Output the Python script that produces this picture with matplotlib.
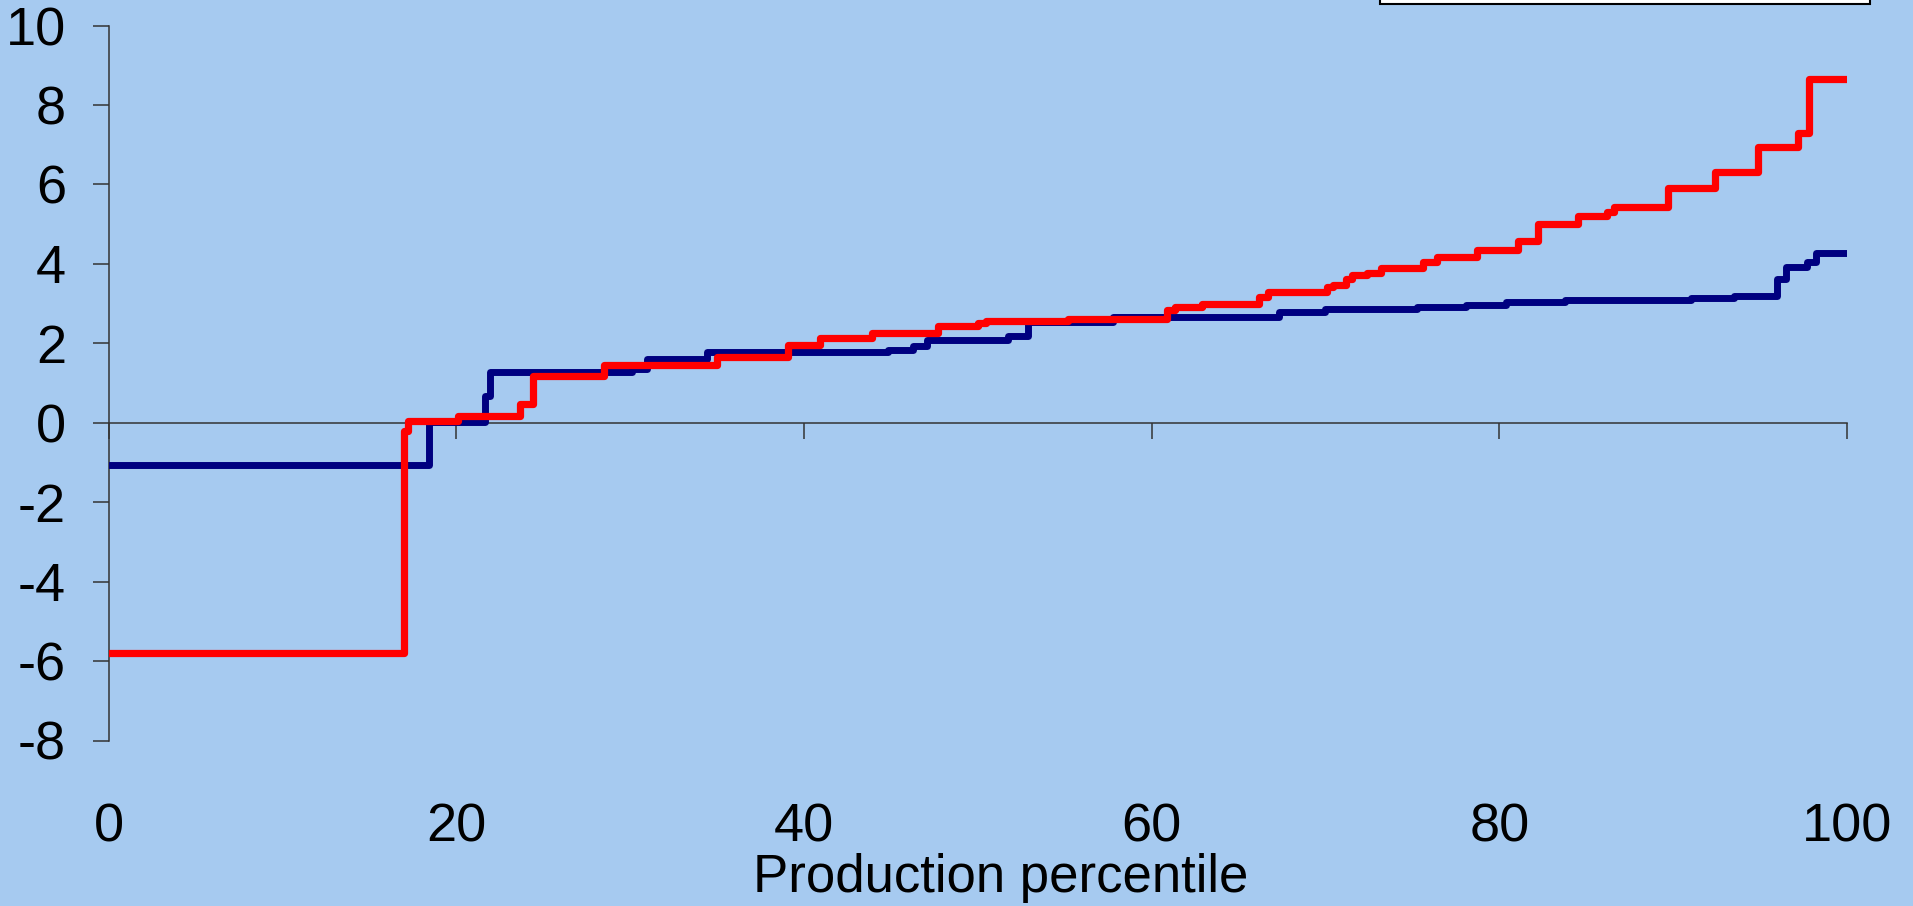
import matplotlib
matplotlib.use("Agg")
import matplotlib.pyplot as plt
from matplotlib.patches import Rectangle
import matplotlib.transforms as mtransforms

# ---- data (step functions: value holds from x[i] to x[i+1]) ----
blue_x = [0, 18.45, 21.65, 21.94, 30.1, 30.95, 34.45, 44.85, 46.3, 47.06,
          51.75, 52.9, 57.8, 67.3, 69.97, 75.25, 78.1, 80.4, 83.8, 91.0,
          93.5, 96.0, 96.5, 97.7, 98.2, 100]
blue_y = [-1.07, 0.02, 0.67, 1.27, 1.36, 1.6, 1.78, 1.84, 1.92, 2.07,
          2.19, 2.53, 2.66, 2.8, 2.87, 2.92, 2.97, 3.03, 3.08, 3.13,
          3.19, 3.61, 3.93, 4.05, 4.28, 4.28]

red_x = [0, 17.0, 17.24, 20.1, 23.67, 24.4, 28.5, 35.0, 39.1, 40.9,
         43.9, 47.7, 50.0, 50.5, 55.2, 60.87, 61.34, 62.9, 66.2, 66.7,
         70.07, 70.45, 71.2, 71.5, 72.4, 73.2, 75.6, 76.4, 78.7, 81.1,
         82.2, 84.5, 86.2, 86.6, 89.7, 92.4, 94.9, 97.2, 97.8, 100]
red_y = [-5.8, -0.2, 0.04, 0.17, 0.46, 1.17, 1.46, 1.66, 1.96, 2.13,
         2.26, 2.44, 2.51, 2.56, 2.61, 2.84, 2.92, 2.99, 3.17, 3.28,
         3.41, 3.47, 3.61, 3.72, 3.78, 3.89, 4.05, 4.18, 4.35, 4.58,
         5.0, 5.2, 5.3, 5.43, 5.92, 6.31, 6.94, 7.29, 8.65, 8.65]

x_ticks = [0, 20, 40, 60, 80, 100]
y_ticks = [-8, -6, -4, -2, 0, 2, 4, 6, 8, 10]
x_label = "Production percentile"

# ---- styling ----
bg = "#A6CAF0"
plt.rcParams['font.family'] = ['Liberation Sans', 'DejaVu Sans']
FS = 39

W, H = 1913, 906
fig = plt.figure(figsize=(W / 100, H / 100), dpi=100, facecolor=bg)
left, right = 108.6 / W, 1847 / W
top, bottom = 1 - 25.5 / H, 1 - 740.5 / H
ax = fig.add_axes([left, bottom, right - left, top - bottom])
ax.set_facecolor(bg)

ax.step(blue_x, blue_y, where='post', color='#000080', lw=5.0,
        solid_joinstyle='round', solid_capstyle='round', zorder=3)
ax.step(red_x, red_y, where='post', color='#FF0000', lw=5.2,
        solid_joinstyle='round', solid_capstyle='round', zorder=4)

ax.set_xlim(0, 100)
ax.set_ylim(-8, 10)

for s in ['top', 'right']:
    ax.spines[s].set_visible(False)
ax.spines['bottom'].set_position(('data', 0))
ax.spines['bottom'].set_color('#333333')
ax.spines['bottom'].set_linewidth(1.1)
ax.spines['left'].set_color('#333333')
ax.spines['left'].set_linewidth(1.1)

ax.set_yticks(y_ticks)
ax.set_yticklabels([str(v) for v in y_ticks], fontsize=FS)
ax.tick_params(axis='y', direction='out', length=11.5, width=1.1,
               color='#333333', pad=19)

ax.set_xticks(x_ticks)
ax.set_xticklabels([])
ax.tick_params(axis='x', direction='out', length=11.5, width=1.1,
               color='#333333')

trans = mtransforms.blended_transform_factory(ax.transData, fig.transFigure)
for v in x_ticks:
    ax.text(v, 1 - 841 / H, str(v), transform=trans, fontsize=FS,
            ha='center', va='baseline', clip_on=False)

fig.text(1001 / W, 1 - 892 / H, x_label, fontsize=38, ha='center', va='baseline')

# legend box cut off at top
fig.patches.append(Rectangle((1380 / W, 1 - 4.3 / H), 490 / W, 0.05,
                             transform=fig.transFigure, facecolor='white',
                             edgecolor='black', lw=1.5, zorder=10))

fig.savefig("out.png", dpi=100, facecolor=bg)
